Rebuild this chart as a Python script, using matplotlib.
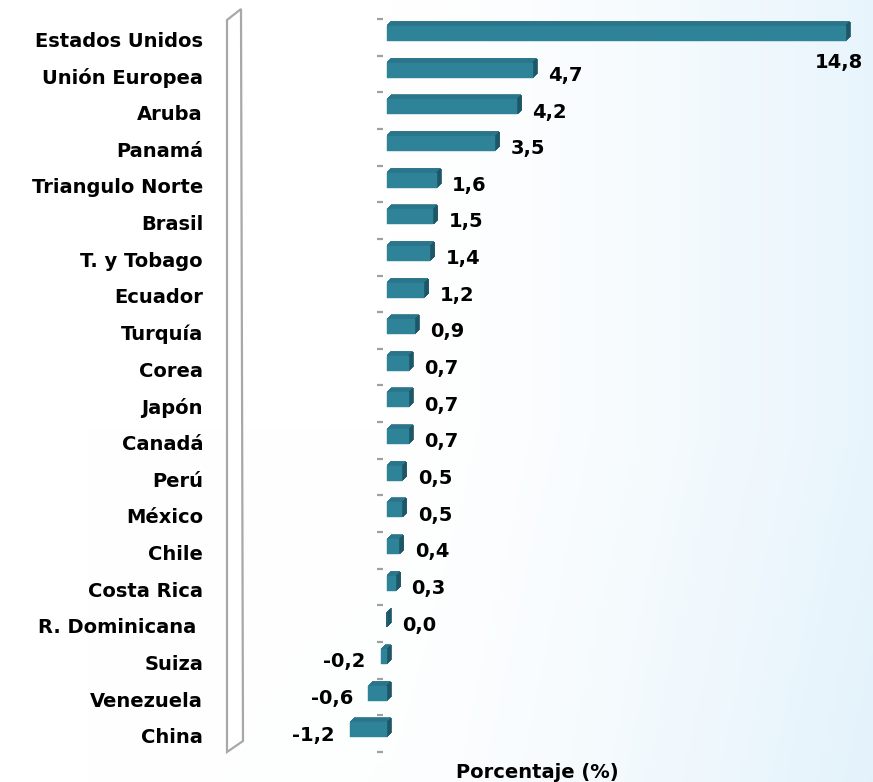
import numpy as np
import matplotlib
matplotlib.use("Agg")
import matplotlib.pyplot as plt
from matplotlib.patches import Polygon
from matplotlib.transforms import ScaledTranslation

countries = ["Estados Unidos", "Unión Europea", "Aruba", "Panamá", "Triangulo Norte",
             "Brasil", "T. y Tobago", "Ecuador", "Turquía", "Corea", "Japón", "Canadá",
             "Perú", "México", "Chile", "Costa Rica", "R. Dominicana ", "Suiza",
             "Venezuela", "China"]
values = [14.8, 4.7, 4.2, 3.5, 1.6, 1.5, 1.4, 1.2, 0.9, 0.7, 0.7, 0.7,
          0.5, 0.5, 0.4, 0.3, 0.0, -0.2, -0.6, -1.2]
value_labels = ["14,8", "4,7", "4,2", "3,5", "1,6", "1,5", "1,4", "1,2", "0,9", "0,7",
                "0,7", "0,7", "0,5", "0,5", "0,4", "0,3", "0,0", "-0,2", "-0,6", "-1,2"]
xlabel = "Porcentaje (%)"

W, H = 873, 782
fig = plt.figure(figsize=(W / 100, H / 100), dpi=100)
FONT = "DejaVu Sans"
FS = 14

# background gradient
bg = fig.add_axes([0, 0, 1, 1], zorder=-10)
bg.set_axis_off()
xx, yy = np.meshgrid(np.linspace(0, 1, 200), np.linspace(0, 1, 200))
t = np.clip((xx - 0.45) / 0.55, 0, 1) ** 1.4 * 0.8 + np.clip((yy - 0.55) / 0.45, 0, 1) * 0.2 * np.clip((xx - 0.1) / 0.9, 0, 1)
t = np.clip(t, 0, 1)
c0 = np.array([1.0, 1.0, 1.0])
c1 = np.array([0.89, 0.95, 0.985])
img = c0[None, None, :] * (1 - t[..., None]) + c1[None, None, :] * t[..., None]
bg.imshow(img, extent=[0, 1, 0, 1], aspect="auto", origin="upper")
bg.set_xlim(0, 1)
bg.set_ylim(0, 1)

# 3D wall decoration (figure pixel coords)
def fx(px):
    return px / W
def fy(py):
    return 1 - py / H
wall = Polygon([(fx(227), fy(20)), (fx(241), fy(9)), (fx(243), fy(741)), (fx(227), fy(752))],
               closed=True, facecolor="white", edgecolor="#a8a8a8", lw=1.6,
               transform=fig.transFigure, zorder=1)
fig.patches.append(wall)

ax = fig.add_axes([383 / W, 1 - 752 / H, (860 - 383) / W, 733 / H])
ax.set_facecolor("none")
n = len(countries)
y = np.arange(n)
ax.set_ylim(n - 0.5, -0.5)
ax.set_xlim(-4 / 31, 15.26)
for s in ax.spines.values():
    s.set_visible(False)

front_c = "#2f8399"
top_c = "#2a758a"
side_c = "#1d5767"
yc = y - 0.105
hbar = 0.41
vals = np.array(values)
left = np.minimum(vals, 0)
right = np.maximum(vals, 0)
ytop = yc - hbar / 2
ybot = yc + hbar / 2

# extruded depth faces via swept lines
for k in np.arange(0.0, 4.01, 0.5):
    off = ScaledTranslation(k / 100, k / 100, fig.dpi_scale_trans)
    ax.hlines(ytop, left, right, colors=top_c, lw=1.2,
              transform=ax.transData + off, clip_on=False, zorder=2)
    ax.vlines(right, ytop, ybot, colors=side_c, lw=1.2,
              transform=ax.transData + off, clip_on=False, zorder=2.5)
ax.barh(yc, values, height=hbar, color=front_c, edgecolor=front_c, lw=0.3,
        clip_on=False, zorder=3)

# ticks
ax.set_yticks(y)
ax.set_yticklabels(countries, fontsize=FS, fontweight="bold", family=FONT)
ax.tick_params(axis="y", which="major", length=0, pad=129.6)
for lab in ax.get_yticklabels():
    lab.set_transform(lab.get_transform() + ScaledTranslation(0, -2 / 100, fig.dpi_scale_trans))
ax.set_yticks(np.arange(n + 1) - 0.5, minor=True)
ax.tick_params(axis="y", which="minor", length=4, width=1.6, color="#a0a0a0")
ax.set_xticks([])

for i, (v, lab) in enumerate(zip(values, value_labels)):
    if i == 0:
        ax.annotate(lab, xy=(v, i), xytext=(-5, -18), textcoords="offset points",
                    ha="center", va="center", fontsize=FS, fontweight="bold",
                    family=FONT, annotation_clip=False)
    elif v < 0:
        ax.annotate(lab, xy=(v, i), xytext=(-11, -1), textcoords="offset points",
                    ha="right", va="center", fontsize=FS, fontweight="bold",
                    family=FONT, annotation_clip=False)
    else:
        ax.annotate(lab, xy=(v, i), xytext=(11, -1), textcoords="offset points",
                    ha="left", va="center", fontsize=FS, fontweight="bold",
                    family=FONT, annotation_clip=False)

fig.text(537 / W, 1 - 772 / H, xlabel, ha="center", va="center", fontsize=FS,
         fontweight="bold", family=FONT)

fig.savefig("out.png", dpi=100)
